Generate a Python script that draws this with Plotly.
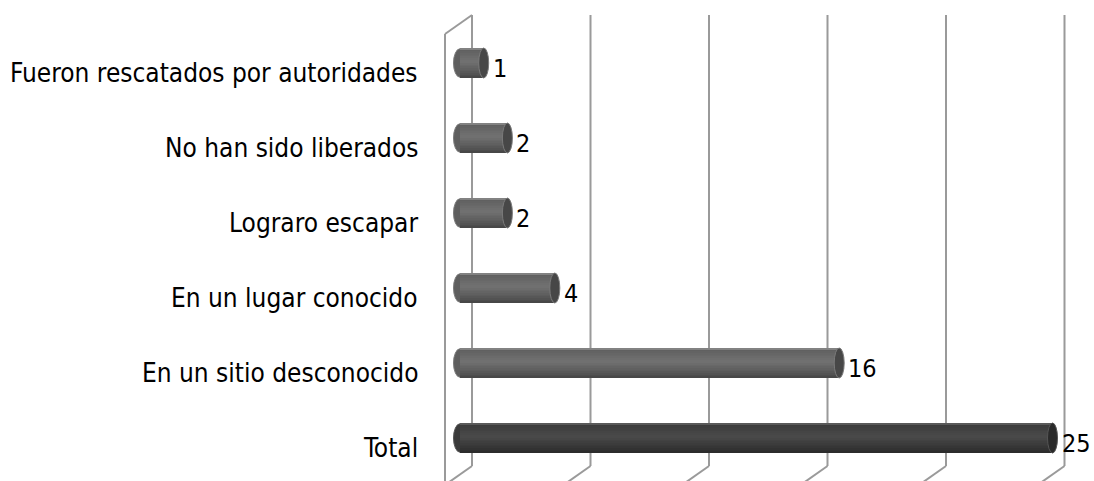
import plotly.graph_objects as go

# ---- data ----
categories = [
    "Total",
    "En un sitio desconocido",
    "En un lugar conocido",
    "Lograro escapar",
    "No han sido liberados",
    "Fueron rescatados por autoridades",
]
values = [25, 16, 4, 2, 2, 1]
grid_ticks = [0, 5, 10, 15, 20, 25]

# ---- layout constants (pixels, in screenshot coordinates) ----
W, H = 1094, 481
X0_PX = 460.0           # pixel of value 0 (bar depth)
PX_PER_UNIT = 23.7
Y0_PX = 438.0           # pixel centre of first category
PX_PER_CAT = 75.0
BAR_W = 0.40
BACK_DX = 12            # back wall x offset from bar plane (px)
FRONT_DX = -15          # front plane x offset from bar plane (px)
GRID_TOP_PX = 15
GRID_BOT_PX = 466
WALL_TOP_PX = 34

xr = [-X0_PX / PX_PER_UNIT, (W - X0_PX) / PX_PER_UNIT]
yr = [-(H - Y0_PX) / PX_PER_CAT, Y0_PX / PX_PER_CAT]


def dx(px):
    return px / PX_PER_UNIT


def ypos(px):
    return (Y0_PX - px) / PX_PER_CAT


FONT = "DejaVu Sans Condensed, DejaVu Sans, sans-serif"


def profile(t, total):
    # brightness profile of cylinder from top (t=0) to bottom (t=1)
    if total:
        pts = [(0, 0x6a), (0.08, 0x3c), (0.45, 0x4a), (0.8, 0x36), (1, 0x2a)]
    else:
        pts = [(0, 0x94), (0.08, 0x60), (0.45, 0x72), (0.8, 0x58), (1, 0x44)]
    for (t0, v0), (t1, v1) in zip(pts[:-1], pts[1:]):
        if t0 <= t <= t1:
            f = (t - t0) / (t1 - t0)
            v = int(round(v0 + (v1 - v0) * f))
            return f"rgb({v},{v},{v})"
    return "rgb(80,80,80)"


fig = go.Figure()

# body stripes (vertical shading of the cylinders)
N = 18
w = BAR_W / N
for k in range(N):
    t = (k + 0.5) / N
    colors = [profile(t, c == "Total") for c in categories]
    fig.add_trace(go.Bar(
        x=values, y=categories, orientation="h",
        width=w * 1.02, offset=BAR_W / 2 - (k + 1) * w,
        marker=dict(color=colors, line=dict(width=0)),
        hoverinfo="skip", showlegend=False,
    ))

shapes = []
gcol = "#9a9a9a"
grid_top = ypos(GRID_TOP_PX)
grid_bot = ypos(GRID_BOT_PX)
for g in grid_ticks:
    xb = g + dx(BACK_DX)
    shapes.append(dict(type="line", xref="x", yref="y", x0=xb, x1=xb,
                       y0=grid_bot, y1=grid_top, layer="below",
                       line=dict(color=gcol, width=2)))
    shapes.append(dict(type="line", xref="x", yref="y", x0=xb, y0=grid_bot,
                       x1=xb - dx(27 * 1.6), y1=ypos(GRID_BOT_PX + 19 * 1.6),
                       layer="below", line=dict(color=gcol, width=2)))
# left wall front edge and top edge
xf = dx(FRONT_DX)
wall_top = ypos(WALL_TOP_PX)
shapes.append(dict(type="line", xref="x", yref="y", x0=xf, x1=xf,
                   y0=yr[0] - 0.1, y1=wall_top, layer="below",
                   line=dict(color=gcol, width=2)))
shapes.append(dict(type="line", xref="x", yref="y", x0=xf, y0=wall_top,
                   x1=dx(BACK_DX), y1=grid_top, layer="below",
                   line=dict(color=gcol, width=2)))

# cylinder ends
for i, (c, v) in enumerate(zip(categories, values)):
    tot = c == "Total"
    left_col = "#3a3a3a" if tot else "#5e5e5e"
    cap_col = "#2a2a2a" if tot else "#474747"
    rim = "#555555" if tot else "#7a7a7a"
    shapes.append(dict(type="circle", xref="x", yref="y",
                       x0=-dx(6.5), x1=dx(6.5), y0=i - BAR_W / 2 + 0.01, y1=i + BAR_W / 2 - 0.01,
                       layer="below", fillcolor=left_col,
                       line=dict(color=rim, width=1)))
    shapes.append(dict(type="circle", xref="x", yref="y",
                       x0=v - dx(5), x1=v + dx(5), y0=i - BAR_W / 2, y1=i + BAR_W / 2,
                       layer="above", fillcolor=cap_col,
                       line=dict(color=rim, width=1)))

annotations = []
for i, (c, v) in enumerate(zip(categories, values)):
    annotations.append(dict(x=0, y=i, xref="x", yref="y", text=c,
                            xanchor="right", yanchor="middle", xshift=-40, yshift=-10,
                            showarrow=False, font=dict(family=FONT, size=26, color="#000")))
    annotations.append(dict(x=v, y=i, xref="x", yref="y", text=str(v),
                            xanchor="left", yanchor="middle", xshift=7, yshift=-5,
                            showarrow=False, font=dict(family=FONT, size=25, color="#000")))

fig.update_layout(
    width=W, height=H,
    margin=dict(l=0, r=0, t=0, b=0),
    paper_bgcolor="white", plot_bgcolor="white",
    barmode="overlay", bargap=0,
    xaxis=dict(range=xr, showgrid=False, zeroline=False, showticklabels=False,
               showline=False, fixedrange=True),
    yaxis=dict(range=yr, showgrid=False, zeroline=False, showticklabels=False,
               showline=False, fixedrange=True, type="category",
               categoryorder="array", categoryarray=categories),
    shapes=shapes, annotations=annotations, showlegend=False,
    hovermode=False,
)

fig.write_html(
    "out.html",
    config={"displayModeBar": False, "staticPlot": True},
    post_script="document.body.style.margin='0';document.body.style.overflow='hidden';",
)
